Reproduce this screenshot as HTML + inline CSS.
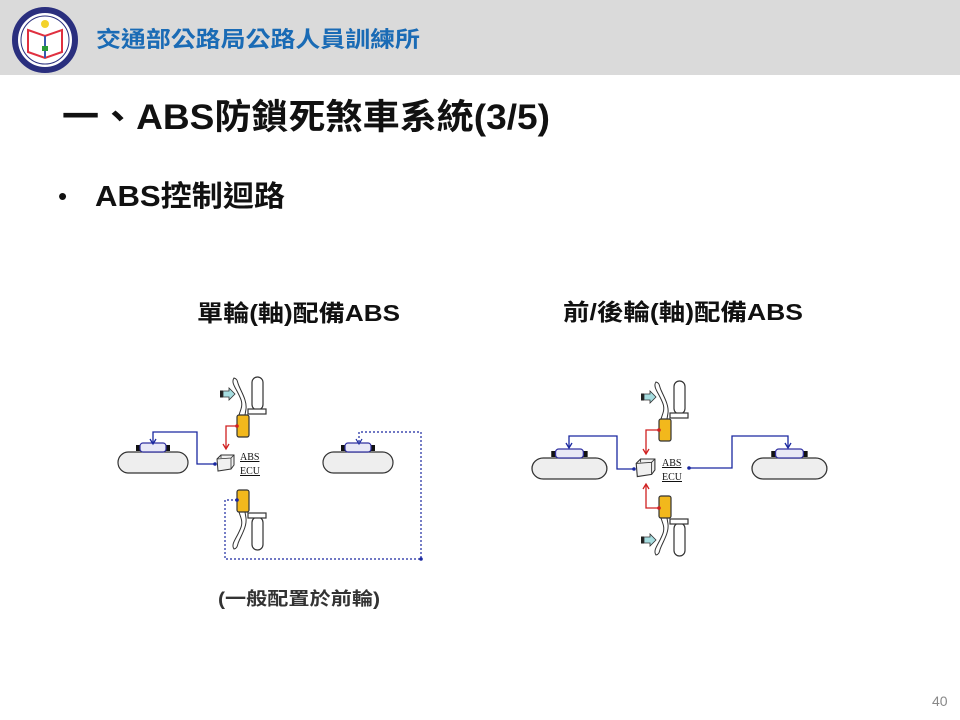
<!DOCTYPE html>
<html><head><meta charset="utf-8"><style>
html,body{margin:0;padding:0;background:#fff}
svg{display:block}
text{font-family:"Liberation Sans","Noto Sans CJK TC",sans-serif}
</style></head><body>
<svg width="960" height="720" viewBox="0 0 960 720" xmlns="http://www.w3.org/2000/svg">
<defs>
<g id="mc">
  <path d="M-3,-37 C-6,-33 -2,-28 1,-22 C4,-16 6,-12 4,-6 L2,0 L8,0 L9,-6 C10,-14 5,-22 2,-29 C0,-33 1,-36 -3,-37 Z" fill="#fff" stroke="#333" stroke-width="1"/>
  <rect x="15" y="-38" width="11" height="33" rx="5.5" fill="#fff" stroke="#333" stroke-width="1.2"/>
  <rect x="11" y="-6" width="18" height="5" fill="#fff" stroke="#333" stroke-width="1.2"/>
  <rect x="0" y="0" width="12" height="22" rx="2" fill="#f2b81c" stroke="#333" stroke-width="1.2"/>
</g>
<g id="arr">
  <rect x="0" y="-3.5" width="3" height="7" fill="#222"/>
  <path d="M3,-3 L9,-3 L9,-6 L15,0 L9,6 L9,3 L3,3 Z" fill="#a6dde0" stroke="#333" stroke-width="0.8"/>
</g>
<g id="wheel">
  <rect x="0" y="0" width="70" height="21" rx="10.5" fill="#eee" stroke="#333" stroke-width="1.2"/>
  <rect x="18" y="-7" width="5" height="6" fill="#111"/>
  <rect x="47" y="-7" width="5" height="6" fill="#111"/>
  <rect x="22" y="-9" width="26" height="9" rx="3" fill="#e8e8f6" stroke="#3030a0" stroke-width="1.2"/>
</g>
<g id="ecu">
  <path d="M2,4 L6,0 L19,0 L19,10 L16,14 L3,16 Z" fill="#f0f0f0" stroke="#333" stroke-width="1"/>
  <path d="M6,0 L6,3 M2,4 L16,3 L19,0 M16,3 L16,14" fill="none" stroke="#333" stroke-width="0.8"/>
</g>
</defs>

<rect x="0" y="0" width="960" height="75" fill="#dadada"/>
<circle cx="45" cy="40" r="30" fill="#fff" stroke="#2a2f7e" stroke-width="6"/>
<circle cx="45" cy="40" r="24" fill="#fff" stroke="#2a2f7e" stroke-width="1"/>
<circle cx="45" cy="24" r="4" fill="#f3d22b"/>
<path d="M28,30 L45,36 L62,30 L62,52 L45,58 L28,52 Z" fill="none" stroke="#e03040" stroke-width="2"/>
<path d="M45,36 L45,58" stroke="#3a5ab0" stroke-width="2"/>
<rect x="42" y="46" width="6" height="5" fill="#2a9a3a"/>
<text x="96" y="47" font-size="22" fill="#1a6bb5" font-weight="bold" textLength="324" lengthAdjust="spacingAndGlyphs">交通部公路局公路人員訓練所</text>

<text x="62" y="129" font-size="35" font-weight="bold" fill="#111" textLength="488" lengthAdjust="spacingAndGlyphs">一、ABS防鎖死煞車系統(3/5)</text>
<text x="58" y="205" font-size="26" fill="#111">•</text>
<text x="95" y="206" font-size="29" font-weight="bold" fill="#111" textLength="190" lengthAdjust="spacingAndGlyphs">ABS控制迴路</text>

<text x="197" y="321" font-size="23" font-weight="bold" fill="#111" textLength="203" lengthAdjust="spacingAndGlyphs">單輪(軸)配備ABS</text>
<text x="563" y="320" font-size="23" font-weight="bold" fill="#111" textLength="240" lengthAdjust="spacingAndGlyphs">前/後輪(軸)配備ABS</text>

<!-- Left diagram -->
<use href="#wheel" x="118" y="452"/>
<use href="#wheel" x="323" y="452"/>
<use href="#mc" transform="translate(237,415)"/>
<use href="#arr" x="220" y="394"/>
<use href="#mc" transform="translate(237,512) scale(1,-1)"/>
<use href="#ecu" x="215" y="455"/>
<text x="240" y="460" font-size="10" fill="#111" style="font-family:'Liberation Serif',serif" text-decoration="underline">ABS</text>
<text x="240" y="474" font-size="10" fill="#111" style="font-family:'Liberation Serif',serif" text-decoration="underline">ECU</text>
<path d="M237,426 L226,426 L226,448" fill="none" stroke="#d02020" stroke-width="1.3"/>
<path d="M223,444 L226,449 L229,444" fill="none" stroke="#d02020" stroke-width="1.3"/>
<circle cx="237" cy="426" r="1.8" fill="#d02020"/>
<path d="M215,464 L197,464 L197,432 L153,432 L153,443" fill="none" stroke="#1a28a0" stroke-width="1.3"/>
<path d="M150,439 L153,444 L156,439" fill="none" stroke="#1a28a0" stroke-width="1.3"/>
<circle cx="215" cy="464" r="1.8" fill="#1a28a0"/>
<path d="M237,500 L225,500 L225,559 L421,559 L421,432 L359,432 L359,443" fill="none" stroke="#1a28a0" stroke-width="1.2" stroke-dasharray="2,2"/>
<path d="M356,439 L359,444 L362,439" fill="none" stroke="#1a28a0" stroke-width="1.2"/>
<circle cx="237" cy="500" r="1.8" fill="#1a28a0"/>
<circle cx="421" cy="559" r="1.8" fill="#1a28a0"/>

<!-- Right diagram -->
<use href="#wheel" transform="translate(532,458) scale(1.07,1)"/>
<use href="#wheel" transform="translate(752,458) scale(1.07,1)"/>
<use href="#mc" transform="translate(659,419)"/>
<use href="#arr" x="641" y="397"/>
<use href="#mc" transform="translate(659,518) scale(1,-1)"/>
<use href="#arr" x="641" y="540"/>
<use href="#ecu" transform="translate(634,459) scale(1.1,1.1)"/>
<text x="662" y="466" font-size="10" fill="#111" style="font-family:'Liberation Serif',serif" text-decoration="underline">ABS</text>
<text x="662" y="480" font-size="10" fill="#111" style="font-family:'Liberation Serif',serif" text-decoration="underline">ECU</text>
<path d="M659,430 L646,430 L646,453" fill="none" stroke="#d02020" stroke-width="1.3"/>
<path d="M643,449 L646,454 L649,449" fill="none" stroke="#d02020" stroke-width="1.3"/>
<circle cx="659" cy="430" r="1.8" fill="#d02020"/>
<path d="M659,508 L646,508 L646,485" fill="none" stroke="#d02020" stroke-width="1.3"/>
<path d="M643,489 L646,484 L649,489" fill="none" stroke="#d02020" stroke-width="1.3"/>
<circle cx="659" cy="508" r="1.8" fill="#d02020"/>
<path d="M634,469 L617,469 L617,436 L569,436 L569,447" fill="none" stroke="#1a28a0" stroke-width="1.3"/>
<path d="M566,443 L569,448 L572,443" fill="none" stroke="#1a28a0" stroke-width="1.3"/>
<circle cx="634" cy="469" r="1.8" fill="#1a28a0"/>
<path d="M689,468 L732,468 L732,436 L788,436 L788,447" fill="none" stroke="#1a28a0" stroke-width="1.3"/>
<path d="M785,443 L788,448 L791,443" fill="none" stroke="#1a28a0" stroke-width="1.3"/>
<circle cx="689" cy="468" r="1.8" fill="#1a28a0"/>

<text x="218" y="605" font-size="18" font-weight="bold" fill="#333" textLength="162" lengthAdjust="spacingAndGlyphs">(一般配置於前輪)</text>
<text x="932" y="706" font-size="14" fill="#888">40</text>
</svg>
</body></html>
